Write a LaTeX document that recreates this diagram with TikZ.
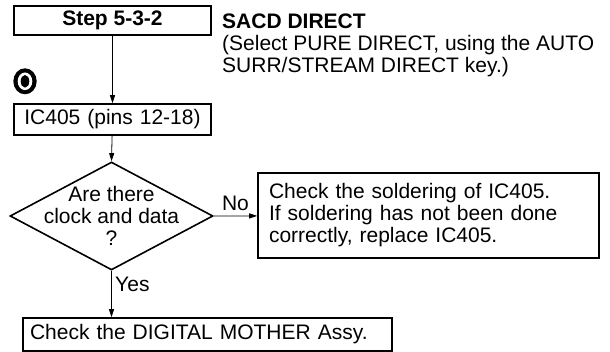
\documentclass[tikz,border=0pt]{standalone}
\usepackage{fontspec}
\setmainfont{Liberation Sans}
\usetikzlibrary{shapes.geometric,arrows.meta}

\begin{document}
\begin{tikzpicture}[x=1pt,y=-1pt,
  every node/.style={font=\fontsize{21}{22}\selectfont},
  stepbox/.style={draw,line width=1.6pt,inner sep=0pt,font=\fontsize{21}{22}\selectfont\bfseries},
  flowbox/.style={draw,line width=1.6pt,inner ysep=0pt,align=left},
  decision/.style={draw,diamond,line width=1.6pt,inner sep=0pt},
  flow/.style={line width=0.8pt,-{Triangle[length=8pt,width=5pt]}}]
  \useasboundingbox (0,0) rectangle (610,352);
  \node[stepbox,minimum width=197pt,minimum height=29pt] (step) at (112.5,20.5) {Step 5-3-2};
  \node[anchor=north west,inner sep=0pt,align=left] (mode) at (222,13.5) {\textbf{SACD DIRECT}\\(Select PURE DIRECT, using the AUTO\\SURR/STREAM DIRECT key.)};
  \fill (25,81.3) ellipse (11.7 and 13);
  \fill[white] (25,81.3) ellipse (7.3 and 8.8);
  \fill (25,81.3) ellipse (4.3 and 6.3);
  \node[flowbox,align=center,inner xsep=4pt,text width=189pt,minimum height=31pt] (ic) at (112.5,119.5) {IC405 (pins 12-18)};
  \node[decision,minimum width=203pt,minimum height=108pt] (dec) at (111.5,216) {};
  \node[align=center,inner sep=0pt] (q) at (dec.center) {Are there\\clock and data\\?};
  \node[flowbox,inner xsep=11pt,text width=319pt,minimum height=85pt] (fix) at (428.5,215.5) {Check the soldering of IC405.\\If soldering has not been done\\correctly, replace IC405.};
  \node[flowbox,inner xsep=7pt,text width=355pt,minimum height=33pt] (mother) at (207.5,334.5) {Check the DIGITAL MOTHER Assy.};
  \draw[flow] (step) -- (ic);
  \draw[flow] (ic) -- (dec.north);
  \draw[flow] (dec.east) -- node[above,yshift=2pt] {No} (fix);
  \draw[flow] (dec.south) -- node[right,pos=0.3] {Yes} (mother.north -| dec.south);
\end{tikzpicture}
\end{document}
